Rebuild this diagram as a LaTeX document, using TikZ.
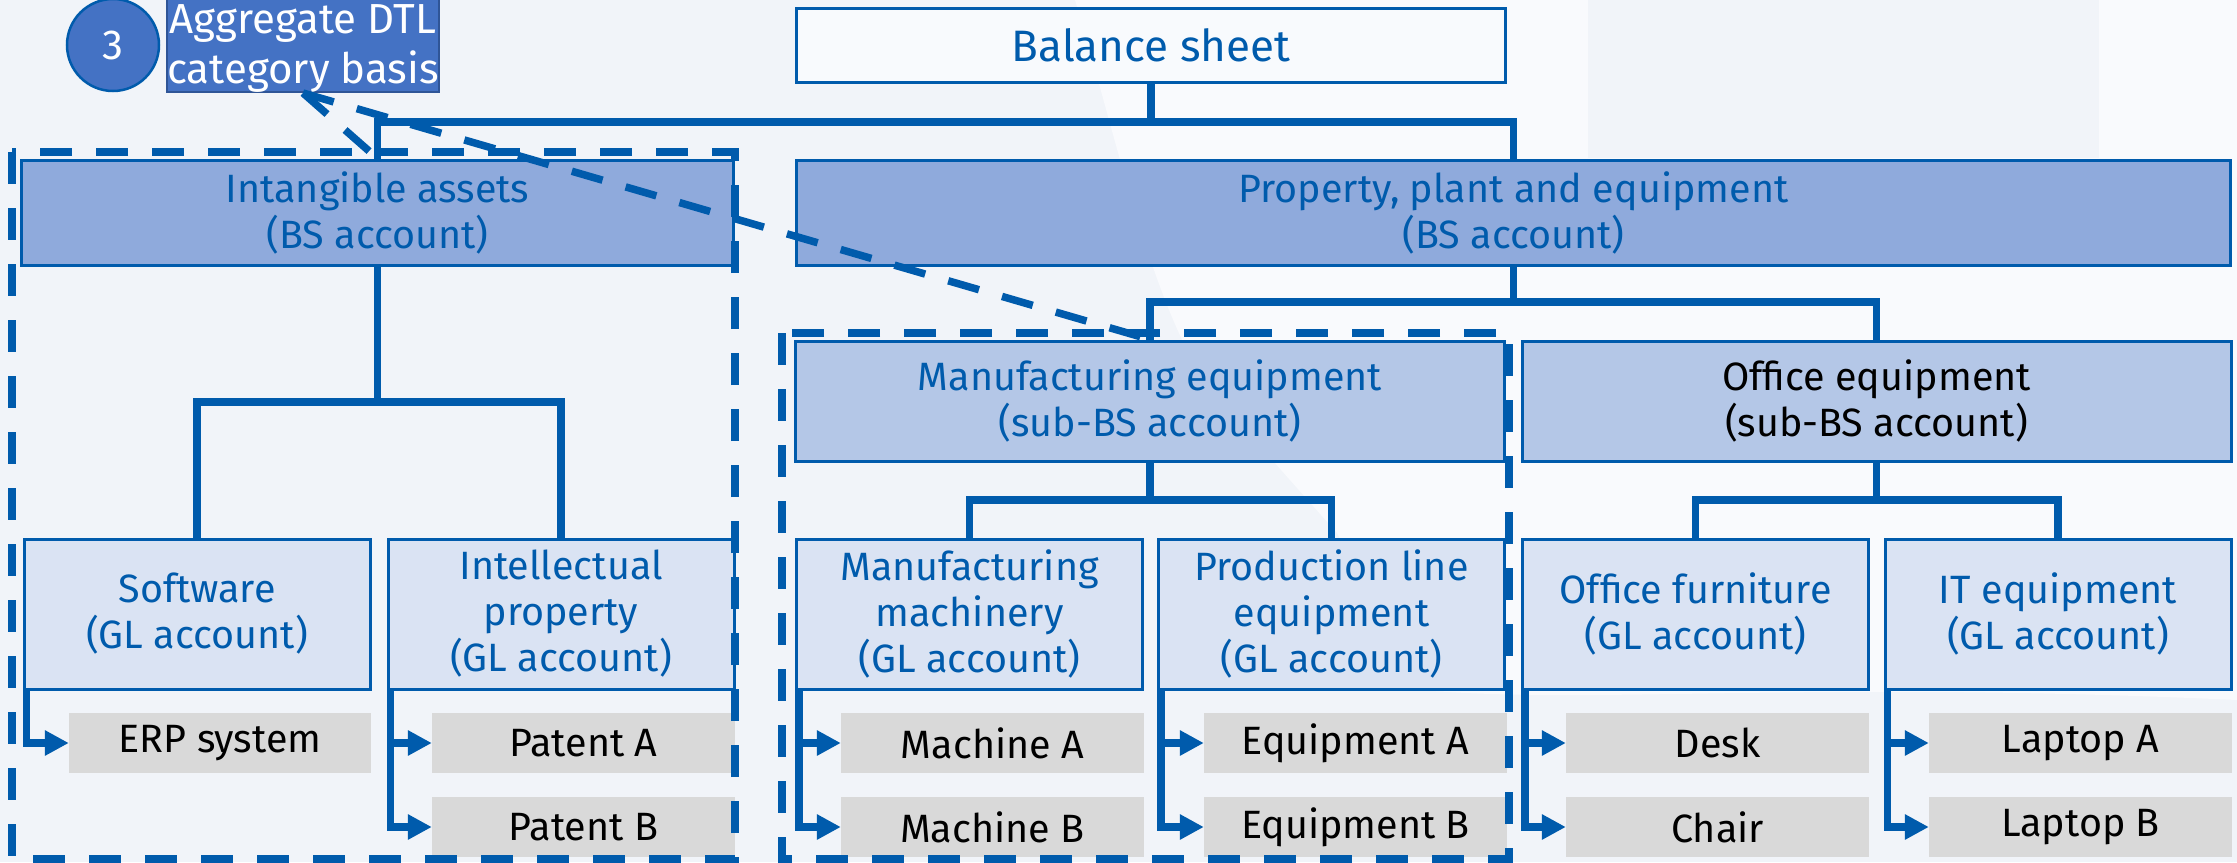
\documentclass[tikz,border=0pt]{standalone}
\usepackage{fontspec}
\setmainfont{Fira Sans}
\usetikzlibrary{arrows.meta,calc}
\definecolor{bgA}{HTML}{F1F4F9}
\definecolor{bgB}{HTML}{F9FAFD}
\definecolor{dblue}{HTML}{005BAC}
\definecolor{fillBS}{HTML}{8FAADC}
\definecolor{fillSub}{HTML}{B4C7E7}
\definecolor{fillGL}{HTML}{DAE3F3}
\definecolor{fillItem}{HTML}{D9D9D9}
\definecolor{fillAgg}{HTML}{4472C4}
\definecolor{aggBorder}{HTML}{2F5597}
\definecolor{balFill}{HTML}{F8FAFD}
\begin{document}
\begin{tikzpicture}[x=1pt,y=-1pt,
  txt/.style={font=\fontsize{39.5}{46}\selectfont},
  bigtxt/.style={font=\fontsize{44}{50}\selectfont},
  box/.style={txt, draw=dblue, line width=3pt, inner sep=0pt, align=center, text=dblue},
  bsbox/.style={box, fill=fillBS, minimum height=105pt},
  subbox/.style={box, fill=fillSub, minimum width=709pt, minimum height=120pt},
  glbox/.style={box, fill=fillGL, minimum width=346pt, minimum height=150pt},
  itembox/.style={txt, fill=fillItem, inner sep=0pt, minimum width=303pt, minimum height=60pt, text=black},
  conn/.style={draw=dblue, line width=7.5pt},
  itemarr/.style={conn, -{Triangle[length=24pt,width=24pt]}},
  dashbox/.style={draw=dblue, line width=8pt, dash pattern=on 32pt off 24pt},
  dashline/.style={draw=dblue, line width=7.5pt, dash pattern=on 32pt off 24pt}
]
\clip (0,0) rectangle (2237,862);
% background
\fill[bgA] (0,0) rectangle (2237,862);
\fill[bgB] (1075,0) .. controls (1120,150) and (1150,300) .. (1210,390) -- (1337,533) -- (1420,690)
  .. controls (1600,705) and (1800,680) .. (2237,700) -- (2237,0) -- cycle;
\fill[bgA] (1588,0) rectangle (2099,158);

% junction coordinates
\coordinate (j0) at (1151,122);
\coordinate (j1) at (1513.5,302);
\coordinate (j2) at (377.5,402);
\coordinate (j3) at (1150,500);
\coordinate (j4) at (1876.5,500);

% nodes
\node[box, bigtxt, fill=balFill, minimum width=709pt, minimum height=74pt] (bal) at (1151,45.5) {Balance sheet};
\node[bsbox, minimum width=712pt] (int) at (377.5,212.5) {Intangible assets\\(BS account)};
\node[bsbox, minimum width=1434pt] (ppe) at (1513.5,212.5) {Property, plant and equipment\\(BS account)};
\node[subbox] (mfg) at (1150,401) {Manufacturing equipment\\(sub-BS account)};
\node[subbox, text=black] (off) at (1876.5,401) {Office equipment\\(sub-BS account)};

\node[glbox] (sw) at (197,614) {Software\\(GL account)};
\node[glbox] (ip) at (561,614) {Intellectual\\property\\(GL account)};
\node[glbox] (mm) at (969.5,614) {Manufacturing\\machinery\\(GL account)};
\node[glbox] (pl) at (1331.5,614) {Production line\\equipment\\(GL account)};
\node[glbox] (of) at (1695.5,614) {Office furniture\\(GL account)};
\node[glbox] (it) at (2058,614) {IT equipment\\(GL account)};

\node[itembox, minimum width=302pt] (erp) at (220,743) {ERP system};
\node[itembox] (patA) at (583.5,743) {Patent A};
\node[itembox] (patB) at (583.5,827) {Patent B};
\node[itembox] (macA) at (992.5,743) {Machine A};
\node[itembox] (macB) at (992.5,827) {Machine B};
\node[itembox] (eqA) at (1355.5,743) {Equipment A};
\node[itembox] (eqB) at (1355.5,827) {Equipment B};
\node[itembox] (desk) at (1717.5,743) {Desk};
\node[itembox] (chair) at (1717.5,827) {Chair};
\node[itembox] (lapA) at (2080.5,743) {Laptop A};
\node[itembox] (lapB) at (2080.5,827) {Laptop B};

\node[fill=fillAgg, draw=aggBorder, line width=2pt, text=white,
  minimum width=272pt, minimum height=100pt, inner sep=0pt, font=\fontsize{42}{50}\selectfont] (agg) at (303,42)
  {\raisebox{-6pt}[\height][\depth]{\begin{tabular}{@{}c@{}}Aggregate DTL\\category basis\end{tabular}}};
\node[circle, fill=fillAgg, draw=dblue, line width=2.5pt, text=white, minimum size=92pt, inner sep=0pt, font=\fontsize{42}{50}\selectfont] (num) at (113,45) {3};

% connectors
\draw[conn] (bal.south) -- (j0);
\draw[conn] (int.north) |- (j0) -| (ppe.north);
\draw[conn] (ppe.south) -- (j1);
\draw[conn] (mfg.north) |- (j1) -| (off.north);
\draw[conn] (int.south) -- (j2);
\draw[conn] (sw.north) |- (j2) -| (ip.north);
\draw[conn] (mfg.south) -- (j3);
\draw[conn] (mm.north) |- (j3) -| (pl.north);
\draw[conn] (off.south) -- (j4);
\draw[conn] (of.north) |- (j4) -| (it.north);

\draw[itemarr] ([xshift=4pt]sw.south west) |- (erp.west);
\draw[itemarr] ([xshift=4pt]ip.south west) |- (patA.west);
\draw[itemarr] ([xshift=4pt]ip.south west) |- (patB.west);
\draw[itemarr] ([xshift=4pt]mm.south west) |- (macA.west);
\draw[itemarr] ([xshift=4pt]mm.south west) |- (macB.west);
\draw[itemarr] ([xshift=4pt]pl.south west) |- (eqA.west);
\draw[itemarr] ([xshift=4pt]pl.south west) |- (eqB.west);
\draw[itemarr] ([xshift=4pt]of.south west) |- (desk.west);
\draw[itemarr] ([xshift=4pt]of.south west) |- (chair.west);
\draw[itemarr] ([xshift=4pt]it.south west) |- (lapA.west);
\draw[itemarr] ([xshift=4pt]it.south west) |- (lapB.west);

% dashed groups
\draw[dashbox] (12,152) rectangle (735,859);
\draw[dashbox] (782,333) rectangle (1509,859);
\draw[dashline] (agg.south) -- (int.north);
\draw[dashline] (agg.south) -- (mfg.north);
\end{tikzpicture}
\end{document}
